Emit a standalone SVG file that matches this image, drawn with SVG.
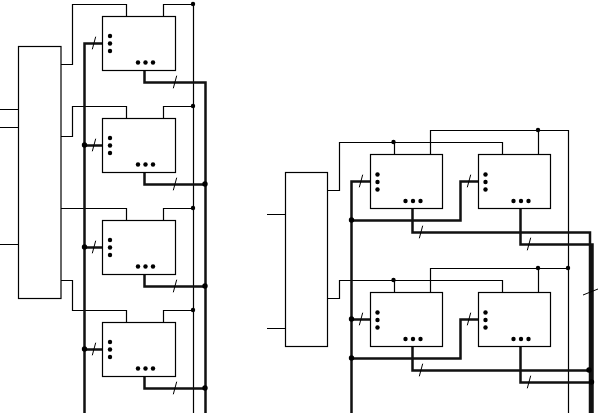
<svg xmlns="http://www.w3.org/2000/svg" width="598" height="414" viewBox="0 0 598 414">
<defs>
<style>
.b{fill:#fff;stroke:#000;stroke-width:1.2}
.t{fill:none;stroke:#000;stroke-width:1.2}
.k{fill:none;stroke:#111;stroke-width:2.5}
.s{fill:none;stroke:#000;stroke-width:1}
.d{fill:#000}
</style>
<g id="pl"><circle cx="8" cy="20" r="2.200" class="d"/><circle cx="8" cy="27.500" r="2.200" class="d"/><circle cx="8" cy="35" r="2.200" class="d"/><circle cx="36" cy="46.500" r="2.200" class="d"/><circle cx="43.500" cy="46.500" r="2.200" class="d"/><circle cx="51" cy="46.500" r="2.200" class="d"/></g>
<path id="sl" d="M-1.700 6.300L1.700-6.300" class="s"/>
</defs>
<rect width="598" height="414" fill="#fff"/>
<g id="connectors">
<path class="t" d="M0 109.500H19M0 127.500H19M0 244.500H19M267 214.500H286M267 328.500H286"/>
<path class="t" d="M61 64.500H72.500V4.500H126.500V16M163.500 16V4.500H193.500V413M61 136.500H72.500V106.500H126.500V118M163.500 118V106.500H193.500M61 208.500H126.500V220M163.500 220V208.500H193.500M61 280.500H72.500V310.500H126.500V322M163.500 322V310.500H193.500"/>
<path class="k" d="M102 43.500H84.500V413M84.500 145.500H102M84.500 247.500H102M84.500 349.500H102M144.500 70V82.500H205.500V413M144.500 172V184.500H205.500M144.500 274V286.500H205.500M144.500 376V388.500H205.500"/>
<path class="t" d="M328 190.500H339.500V142.500H502.500V154M394.500 142.500V154M430.500 154V130.500H568.500V413M538.500 130.500V154M328 298.500H339.500V280.500H502.500V292M394.500 280.500V292M430.500 292V268.500H568.500M538.500 268.500V292"/>
<path class="k" d="M370 181.500H351.500V413M351.500 220.500H460.500V181.500H478M412.500 208V232.500H590V413M520.500 208V244.500H592.500V413M370 319.500H351.500M351.500 358.500H460.500V319.500H478M412.500 346V370.500H589M520.500 346V382.500H591"/>
<use href="#sl" x="94" y="43"/><use href="#sl" x="94" y="145"/><use href="#sl" x="94" y="247"/><use href="#sl" x="94" y="349"/>
<use href="#sl" x="175" y="82"/><use href="#sl" x="175" y="184"/><use href="#sl" x="175" y="286"/><use href="#sl" x="175" y="388"/>
<use href="#sl" x="361" y="181"/><use href="#sl" x="469" y="181"/><use href="#sl" x="361" y="319"/><use href="#sl" x="469" y="319"/>
<use href="#sl" x="421" y="232"/><use href="#sl" x="529" y="244"/><use href="#sl" x="421" y="370"/><use href="#sl" x="529" y="382"/>
<path class="s" d="M583 295L598 289"/>
<g class="d">
<circle cx="193" cy="4" r="2.200"/><circle cx="193" cy="106" r="2.200"/><circle cx="193" cy="208" r="2.200"/><circle cx="193" cy="310" r="2.200"/>
<circle cx="84.500" cy="145" r="2.700"/><circle cx="84.500" cy="247" r="2.700"/><circle cx="84.500" cy="349" r="2.700"/>
<circle cx="205" cy="184" r="2.700"/><circle cx="205" cy="286" r="2.700"/><circle cx="205" cy="388" r="2.700"/>
<circle cx="393.500" cy="142" r="2.200"/><circle cx="538" cy="130" r="2.200"/><circle cx="393.500" cy="280" r="2.200"/><circle cx="538" cy="268" r="2.200"/><circle cx="568" cy="268" r="2.200"/>
<circle cx="351.500" cy="220" r="2.700"/><circle cx="351.500" cy="319" r="2.700"/><circle cx="351.500" cy="358" r="2.700"/>
<circle cx="589" cy="370" r="2.700"/><circle cx="591.500" cy="382" r="2.700"/>
</g>
</g>
<g id="ctrl-left"><rect class="b" x="18.500" y="46.500" width="42.500" height="252"/></g>
<g id="ctrl-right"><rect class="b" x="285.500" y="172.500" width="42" height="174"/></g>
<g id="chip-l1"><rect class="b" x="102.500" y="16.500" width="73" height="54"/><use href="#pl" x="102" y="16"/></g>
<g id="chip-l2"><rect class="b" x="102.500" y="118.500" width="73" height="54"/><use href="#pl" x="102" y="118"/></g>
<g id="chip-l3"><rect class="b" x="102.500" y="220.500" width="73" height="54"/><use href="#pl" x="102" y="220"/></g>
<g id="chip-l4"><rect class="b" x="102.500" y="322.500" width="73" height="54"/><use href="#pl" x="102" y="322"/></g>
<g id="chip-r1"><rect class="b" x="370.500" y="154.500" width="72" height="54"/><use href="#pl" x="369.500" y="154.500"/></g>
<g id="chip-r2"><rect class="b" x="478.500" y="154.500" width="72" height="54"/><use href="#pl" x="477.500" y="154.500"/></g>
<g id="chip-r3"><rect class="b" x="370.500" y="292.500" width="72" height="54"/><use href="#pl" x="369.500" y="292.500"/></g>
<g id="chip-r4"><rect class="b" x="478.500" y="292.500" width="72" height="54"/><use href="#pl" x="477.500" y="292.500"/></g>
</svg>
